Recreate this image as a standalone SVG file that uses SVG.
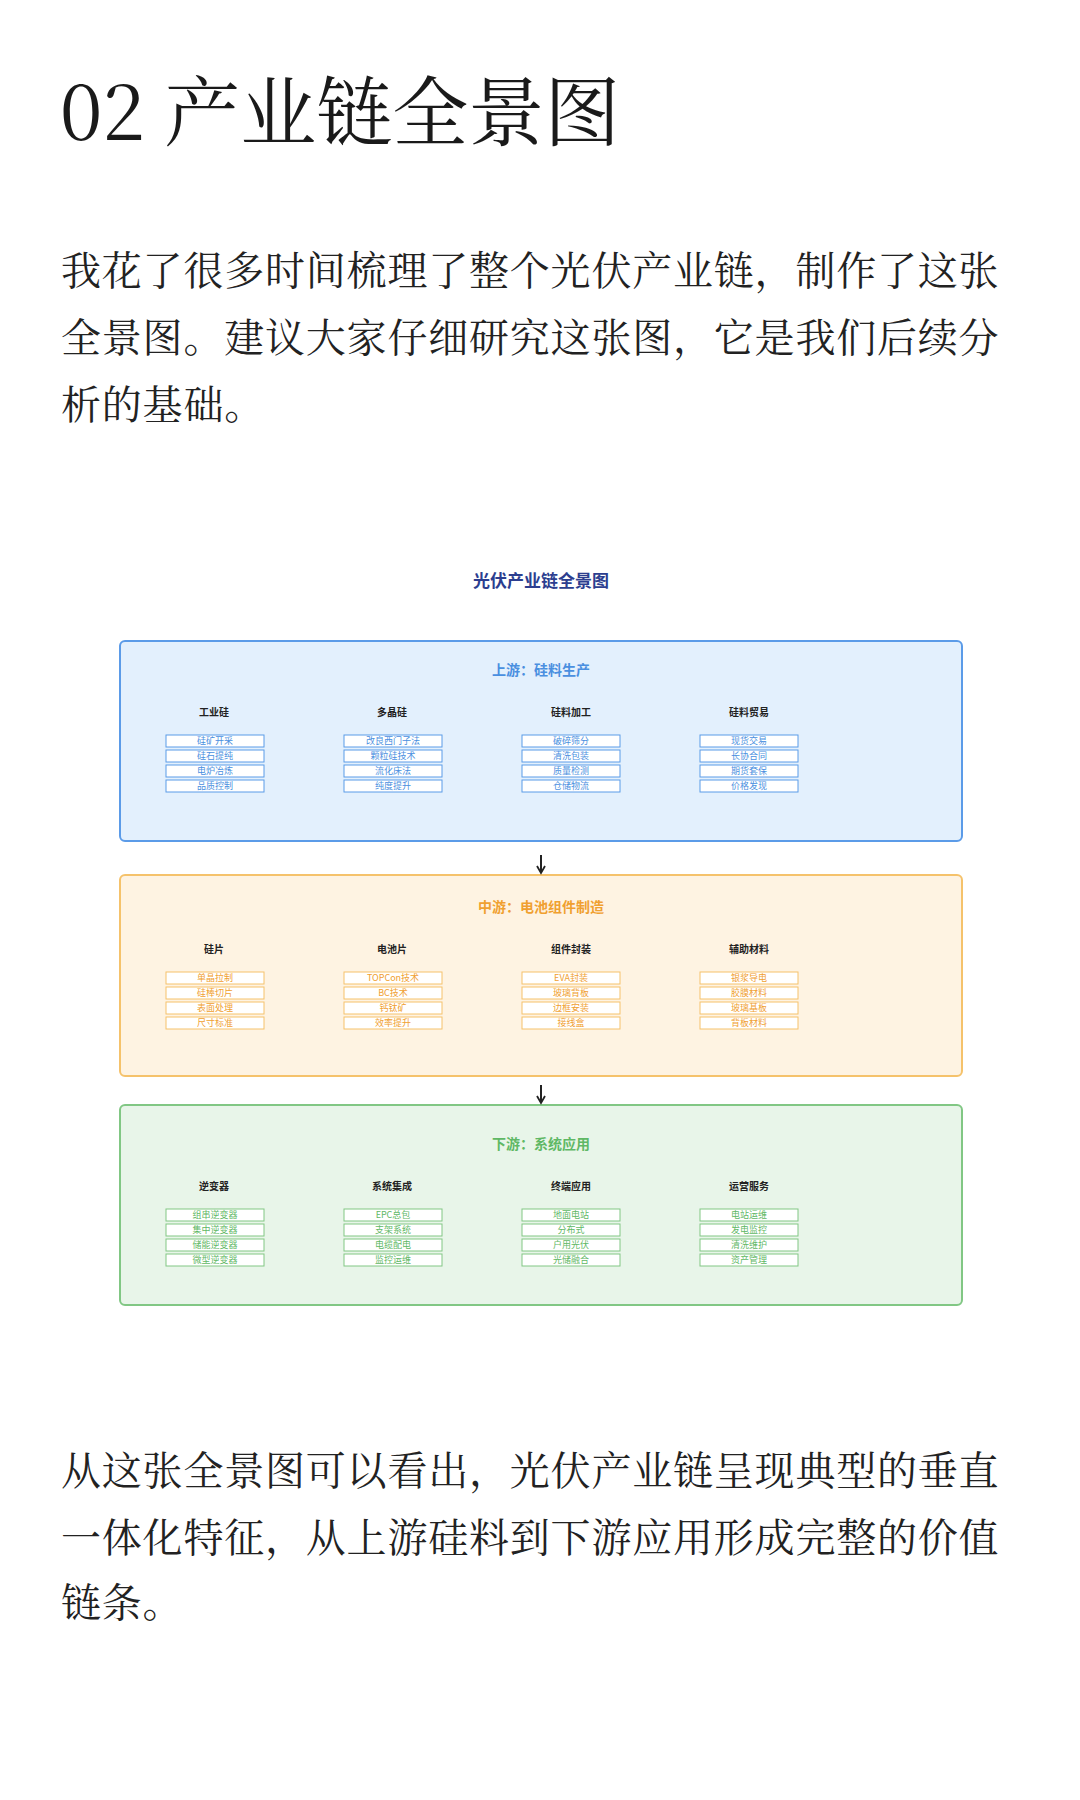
<svg xmlns="http://www.w3.org/2000/svg" width="1080" height="1800" viewBox="0 0 1080 1800">
<style>
text{font-family:"Noto Sans CJK SC","Noto Sans",sans-serif}
.p{font-family:"Noto Serif CJK SC","Noto Sans CJK SC",serif;font-size:40px;fill:#222;letter-spacing:0.8px}
.t{font-family:"Noto Serif CJK SC","Noto Sans CJK SC",serif;font-size:76px;fill:#1a1a1a}
.sec{font-size:14px;text-anchor:middle;font-weight:bold}
.col{font-size:10px;text-anchor:middle;font-weight:bold;fill:#222}
.it{font-size:9px;text-anchor:middle}
.ib{fill:#fff}
.b .ib{stroke:#5b9be8}.b .it,.b .sec{fill:#4a8fe0}
.o .ib{stroke:#f5c26b}.o .it,.o .sec{fill:#f0a030}
.g .ib{stroke:#81c784}.g .it,.g .sec{fill:#5fb865}
</style>
<defs><marker id="ah" markerWidth="10" markerHeight="10" refX="8" refY="5" orient="auto" markerUnits="userSpaceOnUse"><path d="M1,1 L8,5 L1,9" fill="none" stroke="#222" stroke-width="1.8"/></marker></defs>
<rect width="1080" height="1800" fill="#fff"/>
<text class="t" x="60" y="140">02 产业链全景图</text>
<text class="p" x="61" y="285">我花了很多时间梳理了整个光伏产业链，制作了这张</text>
<text class="p" x="61" y="352">全景图。建议大家仔细研究这张图，它是我们后续分</text>
<text class="p" x="61" y="419">析的基础。</text>
<text x="541" y="587" font-size="17" font-weight="bold" fill="#2c3e8f" text-anchor="middle">光伏产业链全景图</text>

<g id="upstream" class="b">
<rect x="120" y="641" width="842" height="200" rx="5" fill="#e3f0fd" stroke="#5b9be8" stroke-width="2"/>
<text class="sec" x="541" y="675">上游：硅料生产</text>
<text class="col" x="214" y="716">工业硅</text><text class="col" x="392" y="716">多晶硅</text><text class="col" x="571" y="716">硅料加工</text><text class="col" x="749" y="716">硅料贸易</text>
<rect class="ib" x="166" y="735" width="98" height="12"/><text class="it" x="215" y="744">硅矿开采</text>
<rect class="ib" x="166" y="750" width="98" height="12"/><text class="it" x="215" y="759">硅石提纯</text>
<rect class="ib" x="166" y="765" width="98" height="12"/><text class="it" x="215" y="774">电炉冶炼</text>
<rect class="ib" x="166" y="780" width="98" height="12"/><text class="it" x="215" y="789">品质控制</text>
<rect class="ib" x="344" y="735" width="98" height="12"/><text class="it" x="393" y="744">改良西门子法</text>
<rect class="ib" x="344" y="750" width="98" height="12"/><text class="it" x="393" y="759">颗粒硅技术</text>
<rect class="ib" x="344" y="765" width="98" height="12"/><text class="it" x="393" y="774">流化床法</text>
<rect class="ib" x="344" y="780" width="98" height="12"/><text class="it" x="393" y="789">纯度提升</text>
<rect class="ib" x="522" y="735" width="98" height="12"/><text class="it" x="571" y="744">破碎筛分</text>
<rect class="ib" x="522" y="750" width="98" height="12"/><text class="it" x="571" y="759">清洗包装</text>
<rect class="ib" x="522" y="765" width="98" height="12"/><text class="it" x="571" y="774">质量检测</text>
<rect class="ib" x="522" y="780" width="98" height="12"/><text class="it" x="571" y="789">仓储物流</text>
<rect class="ib" x="700" y="735" width="98" height="12"/><text class="it" x="749" y="744">现货交易</text>
<rect class="ib" x="700" y="750" width="98" height="12"/><text class="it" x="749" y="759">长协合同</text>
<rect class="ib" x="700" y="765" width="98" height="12"/><text class="it" x="749" y="774">期货套保</text>
<rect class="ib" x="700" y="780" width="98" height="12"/><text class="it" x="749" y="789">价格发现</text>
</g>

<g id="midstream" class="o">
<rect x="120" y="875" width="842" height="201" rx="5" fill="#fef3e2" stroke="#f5c26b" stroke-width="2"/>
<text class="sec" x="541" y="912">中游：电池组件制造</text>
<text class="col" x="214" y="953">硅片</text><text class="col" x="392" y="953">电池片</text><text class="col" x="571" y="953">组件封装</text><text class="col" x="749" y="953">辅助材料</text>
<rect class="ib" x="166" y="972" width="98" height="12"/><text class="it" x="215" y="981">单晶拉制</text>
<rect class="ib" x="166" y="987" width="98" height="12"/><text class="it" x="215" y="996">硅棒切片</text>
<rect class="ib" x="166" y="1002" width="98" height="12"/><text class="it" x="215" y="1011">表面处理</text>
<rect class="ib" x="166" y="1017" width="98" height="12"/><text class="it" x="215" y="1026">尺寸标准</text>
<rect class="ib" x="344" y="972" width="98" height="12"/><text class="it" x="393" y="981">TOPCon技术</text>
<rect class="ib" x="344" y="987" width="98" height="12"/><text class="it" x="393" y="996">BC技术</text>
<rect class="ib" x="344" y="1002" width="98" height="12"/><text class="it" x="393" y="1011">钙钛矿</text>
<rect class="ib" x="344" y="1017" width="98" height="12"/><text class="it" x="393" y="1026">效率提升</text>
<rect class="ib" x="522" y="972" width="98" height="12"/><text class="it" x="571" y="981">EVA封装</text>
<rect class="ib" x="522" y="987" width="98" height="12"/><text class="it" x="571" y="996">玻璃背板</text>
<rect class="ib" x="522" y="1002" width="98" height="12"/><text class="it" x="571" y="1011">边框安装</text>
<rect class="ib" x="522" y="1017" width="98" height="12"/><text class="it" x="571" y="1026">接线盒</text>
<rect class="ib" x="700" y="972" width="98" height="12"/><text class="it" x="749" y="981">银浆导电</text>
<rect class="ib" x="700" y="987" width="98" height="12"/><text class="it" x="749" y="996">胶膜材料</text>
<rect class="ib" x="700" y="1002" width="98" height="12"/><text class="it" x="749" y="1011">玻璃基板</text>
<rect class="ib" x="700" y="1017" width="98" height="12"/><text class="it" x="749" y="1026">背板材料</text>
</g>

<g id="downstream" class="g">
<rect x="120" y="1105" width="842" height="200" rx="5" fill="#e8f5e9" stroke="#81c784" stroke-width="2"/>
<text class="sec" x="541" y="1149">下游：系统应用</text>
<text class="col" x="214" y="1190">逆变器</text><text class="col" x="392" y="1190">系统集成</text><text class="col" x="571" y="1190">终端应用</text><text class="col" x="749" y="1190">运营服务</text>
<rect class="ib" x="166" y="1209" width="98" height="12"/><text class="it" x="215" y="1218">组串逆变器</text>
<rect class="ib" x="166" y="1224" width="98" height="12"/><text class="it" x="215" y="1233">集中逆变器</text>
<rect class="ib" x="166" y="1239" width="98" height="12"/><text class="it" x="215" y="1248">储能逆变器</text>
<rect class="ib" x="166" y="1254" width="98" height="12"/><text class="it" x="215" y="1263">微型逆变器</text>
<rect class="ib" x="344" y="1209" width="98" height="12"/><text class="it" x="393" y="1218">EPC总包</text>
<rect class="ib" x="344" y="1224" width="98" height="12"/><text class="it" x="393" y="1233">支架系统</text>
<rect class="ib" x="344" y="1239" width="98" height="12"/><text class="it" x="393" y="1248">电缆配电</text>
<rect class="ib" x="344" y="1254" width="98" height="12"/><text class="it" x="393" y="1263">监控运维</text>
<rect class="ib" x="522" y="1209" width="98" height="12"/><text class="it" x="571" y="1218">地面电站</text>
<rect class="ib" x="522" y="1224" width="98" height="12"/><text class="it" x="571" y="1233">分布式</text>
<rect class="ib" x="522" y="1239" width="98" height="12"/><text class="it" x="571" y="1248">户用光伏</text>
<rect class="ib" x="522" y="1254" width="98" height="12"/><text class="it" x="571" y="1263">光储融合</text>
<rect class="ib" x="700" y="1209" width="98" height="12"/><text class="it" x="749" y="1218">电站运维</text>
<rect class="ib" x="700" y="1224" width="98" height="12"/><text class="it" x="749" y="1233">发电监控</text>
<rect class="ib" x="700" y="1239" width="98" height="12"/><text class="it" x="749" y="1248">清洗维护</text>
<rect class="ib" x="700" y="1254" width="98" height="12"/><text class="it" x="749" y="1263">资产管理</text>
</g>

<g id="connectors" stroke="#222" stroke-width="2" fill="none">
<line x1="541" y1="855" x2="541" y2="873" marker-end="url(#ah)"/>
<line x1="541" y1="1085" x2="541" y2="1103" marker-end="url(#ah)"/>
</g>

<text class="p" x="61" y="1485">从这张全景图可以看出，光伏产业链呈现典型的垂直</text>
<text class="p" x="61" y="1552">一体化特征，从上游硅料到下游应用形成完整的价值</text>
<text class="p" x="61" y="1617">链条。</text>
</svg>
